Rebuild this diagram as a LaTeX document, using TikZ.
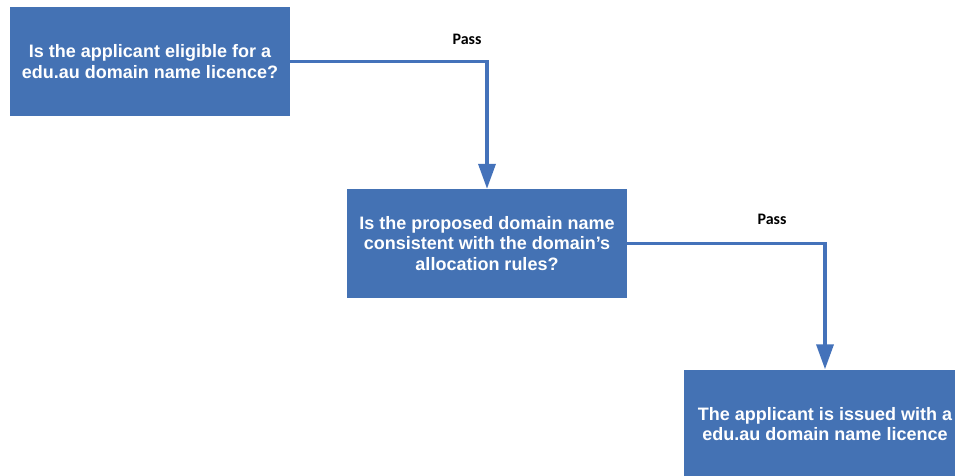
\documentclass[tikz,border=0pt]{standalone}
\usepackage{fontspec}
\setmainfont{Liberation Sans}
\newfontfamily\calibri{Carlito}
\usetikzlibrary{arrows.meta}
\definecolor{boxblue}{RGB}{68,114,180}
\definecolor{lineblue}{RGB}{68,114,186}
\tikzset{
  qbox/.style={fill=boxblue, draw=none, text=white, font=\bfseries\fontsize{18}{20.7}\selectfont,
    align=center, inner sep=0pt, minimum width=280pt, minimum height=109pt},
  flow/.style={draw=lineblue, line width=3.5pt, -{Triangle[width=17pt,length=25pt]}},
  passlbl/.style={font=\calibri\bfseries\fontsize{16}{18}\selectfont, text=black, inner sep=0pt}
}
\begin{document}
\begin{tikzpicture}[x=1pt,y=-1pt]
\useasboundingbox (0,0) rectangle (955,475);
\clip (0,0) rectangle (955,475);
\node[qbox] (b1) at (150,61.5) {Is the applicant eligible for a\\edu.au domain name licence?};
\node[qbox] (b2) at (487,243.5) {Is the proposed domain name\\consistent with the domain’s\\allocation rules?};
\node[qbox, minimum width=282pt] (b3) at (825,424) {The applicant is issued with a\\edu.au domain name licence};
\node[passlbl] (p1) at (467,39) {Pass};
\node[passlbl] (p2) at (772,219.5) {Pass};
\draw[flow] (b1.east) -| (b2.north);
\draw[flow] (b2.east) -| (b3.north);
\end{tikzpicture}
\end{document}
